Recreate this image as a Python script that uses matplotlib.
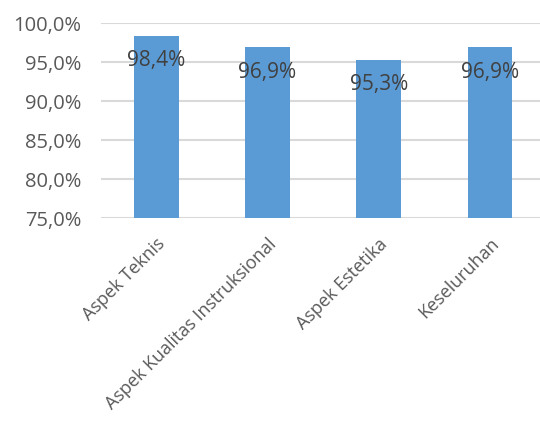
import matplotlib.pyplot as plt
import matplotlib.ticker as mticker

categories = ["Aspek Teknis", "Aspek Kualitas Instruksional", "Aspek Estetika", "Keseluruhan"]
values = [98.4, 96.9, 95.3, 96.9]
labels = ["98,4%", "96,9%", "95,3%", "96,9%"]

plt.rcParams["font.family"] = ["Open Sans", "DejaVu Sans"]

fig = plt.figure(figsize=(5.4, 4.21), dpi=100)
ax = fig.add_axes([0.1865, 0.482, 0.8135, 0.463])

x = range(len(categories))
bars = ax.bar(x, values, width=0.4, color="#5B9BD5", zorder=3)
ax.set_ylim(75, 100)
ax.set_xlim(-0.5, 3.45)

for xi, v, lbl in zip(x, values, labels):
    ax.annotate(lbl, (xi, v), xytext=(0, -25), textcoords="offset pixels",
                ha="center", va="center", fontsize=15, color="#404040", zorder=4)

ax.yaxis.set_major_locator(mticker.MultipleLocator(5))
ax.yaxis.set_major_formatter(mticker.FuncFormatter(lambda v, p: f"{v:.1f}%".replace(".", ",")))
ax.grid(axis="y", color="#d9d9d9", linewidth=1.5, zorder=0)
for s in ax.spines.values():
    s.set_visible(False)
ax.tick_params(axis="both", length=0, labelcolor="#595959")
ax.tick_params(axis="y", labelsize=14.5, pad=14)
ax.tick_params(axis="x", labelsize=13, pad=12)
ax.set_xticks(list(x))
ax.set_xticklabels(categories, rotation=45, ha="right", rotation_mode="anchor")

fig.savefig("out.png", dpi=100)
